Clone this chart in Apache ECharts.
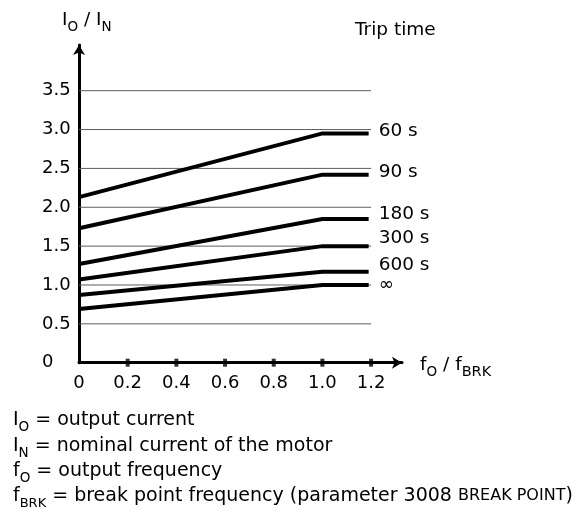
<!DOCTYPE html>
<html>
<head>
<meta charset="utf-8">
<script src="https://cdn.jsdelivr.net/npm/echarts@6/dist/echarts.min.js"></script>
<style>
html, body { margin: 0; padding: 0; background: #fff; }
#c { width: 580px; height: 515px; }
</style>
</head>
<body>
<div id="c"></div>
<script>
// ---------- data ----------
const xPoints = [0, 1.0, 1.19];               // f_O / f_BRK
const seriesNames = ['60 s', '90 s', '180 s', '300 s', '600 s', '∞'];
const v60  = [2.13, 2.95, 2.95];
const v90  = [1.73, 2.42, 2.42];
const v180 = [1.27, 1.85, 1.85];
const v300 = [1.07, 1.50, 1.50];
const v600 = [0.87, 1.17, 1.17];
const vInf = [0.69, 1.00, 1.00];
const seriesValues = [v60, v90, v180, v300, v600, vInf];

const yTicks = [0, 0.5, 1.0, 1.5, 2.0, 2.5, 3.0, 3.5];
const yTickLabels = ['0', '0.5', '1.0', '1.5', '2.0', '2.5', '3.0', '3.5'];
const xTicks = [0, 0.2, 0.4, 0.6, 0.8, 1.0, 1.2];
const xTickLabels = ['0', '0.2', '0.4', '0.6', '0.8', '1.0', '1.2'];
const gridLevels = [0.5, 1.0, 1.5, 2.0, 2.5, 3.0, 3.5];
const gridSpan = [0, 1.2];
const tickMarks = [0.2, 0.4, 0.6, 0.8, 1.0, 1.2];

// ---------- style ----------
const FONT = '"DejaVu Sans", "Liberation Sans", Arial, sans-serif';
const FS_AXIS = 18;
const FS = 18.5;
const FS_NOTE = 19;
const LABEL_NUDGE = [-2.5, -2.5, -4.5, -7.5, -7, 0];

function lookup(vals, labels, v) {
  for (let i = 0; i < vals.length; i++) if (Math.abs(vals[i] - v) < 1e-6) return labels[i];
  return '';
}

function makeRich(fs, subBrk) {
  return {
    m: { fontSize: fs, fontFamily: FONT, fill: '#000' },
    s: { fontSize: 13.5, fontFamily: FONT, fill: '#000', padding: [15, 0, 0, 0] },
    b: { fontSize: subBrk, fontFamily: FONT, fill: '#000', padding: [15, 0, 0, 0] },
    k: { fontSize: 16, fontFamily: FONT, fill: '#000' }
  };
}
function txt(x, y, text, fs, subBrk) {
  return { type: 'text', x: x, y: y, silent: true,
    style: { text: text, rich: makeRich(fs, subBrk || 13), align: 'left', verticalAlign: 'middle',
             fontSize: fs, fontFamily: FONT, fill: '#000' } };
}

const gridSeries = gridLevels.map(v => ({
  type: 'line', silent: true, symbol: 'none', z: 1,
  data: gridSpan.map(x => [x, v]),
  lineStyle: { color: '#5e5e5e', width: 1 }
}));

const curveSeries = seriesNames.map((name, i) => ({
  name: name, type: 'line', silent: true, symbol: 'none', z: 3,
  data: xPoints.map((x, j) => [x, seriesValues[i][j]]),
  lineStyle: { color: '#000', width: 4, cap: 'butt', join: 'miter' },
  endLabel: {
    show: true, formatter: () => name, distance: 10,
    offset: [0, LABEL_NUDGE[i]],
    fontSize: FS, fontFamily: FONT, color: '#000'
  }
}));

const tickSeries = {
  type: 'scatter', silent: true, clip: false, z: 5,
  symbol: 'rect', symbolSize: [4, 8],
  data: tickMarks.map(x => [x, 0]),
  itemStyle: { color: '#000' }
};

const chart = echarts.init(document.getElementById('c'));
chart.setOption({
  animation: false,
  backgroundColor: '#fff',
  grid: { left: 79, top: 45, width: 323, height: 317.7, containLabel: false, outerBoundsMode: 'none' },
  xAxis: {
    type: 'value', min: 0, max: 1.327, interval: 0.2,
    axisLine: { show: true, onZero: false, symbol: ['none', 'arrow'], symbolSize: [9, 10],
                lineStyle: { color: '#000', width: 3 } },
    axisTick: { show: false },
    splitLine: { show: false },
    axisLabel: { customValues: xTicks, formatter: v => lookup(xTicks, xTickLabels, v),
                 fontSize: FS_AXIS, fontFamily: FONT, color: '#000', margin: 12 }
  },
  yAxis: {
    type: 'value', min: 0, max: 4.088, interval: 0.5,
    axisLine: { show: true, onZero: false, symbol: ['none', 'arrow'], symbolSize: [9, 10],
                lineStyle: { color: '#000', width: 3 } },
    axisTick: { show: false },
    splitLine: { show: false },
    axisLabel: { customValues: yTicks, formatter: v => lookup(yTicks, yTickLabels, v),
                 align: 'left', margin: 37,
                 fontSize: FS_AXIS, fontFamily: FONT, color: '#000' }
  },
  series: gridSeries.concat(curveSeries).concat([tickSeries]),
  graphic: [
    txt(62, 20, '{m|I}{s|O}{m| / I}{s|N}', FS),
    txt(420, 365, '{m|f}{s|O}{m| / f}{b|BRK}', FS, 14.5),
    txt(355, 30, '{m|Trip time}', FS),
    txt(13, 420, '{m|I}{s|O}{m| = output current}', FS_NOTE),
    txt(13, 446, '{m|I}{s|N}{m| = nominal current of the motor}', FS_NOTE),
    txt(13, 471, '{m|f}{s|O}{m| = output frequency}', FS_NOTE),
    txt(13, 496, '{m|f}{b|BRK}{m| = break point frequency (parameter 3008 }{k|BREAK POINT}{m|)}', FS_NOTE, 13)
  ]
});
</script>
</body>
</html>
